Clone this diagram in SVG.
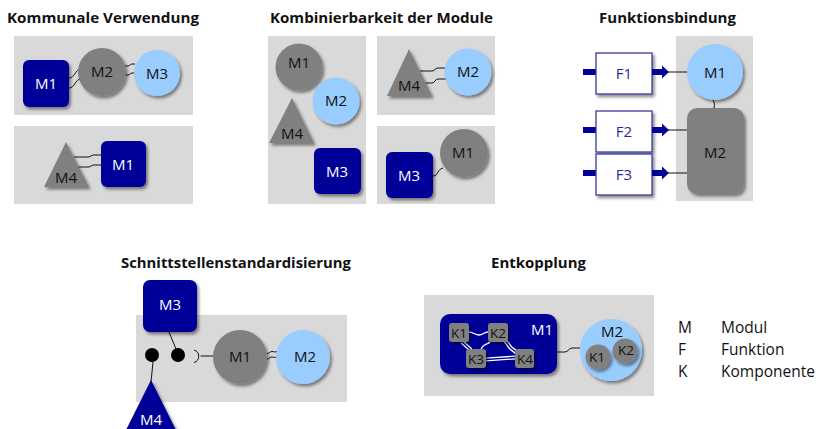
<svg xmlns="http://www.w3.org/2000/svg" width="822" height="429" viewBox="0 0 822 429">
<defs>
<filter id="sh" x="-30%" y="-30%" width="170%" height="170%">
<feDropShadow dx="2" dy="2.5" stdDeviation="1.8" flood-color="#000" flood-opacity="0.45"/>
</filter>
<style>
.bg{fill:#d9d9d9}
.db{fill:#000099;filter:url(#sh)}
.gr{fill:#808080;filter:url(#sh)}
.lb{fill:#99ccff;filter:url(#sh)}
.fb{fill:#fff;stroke:#3a3aa0;stroke-width:1.3;filter:url(#sh)}
.t{font-family:"Open Sans","Liberation Sans",sans-serif;font-weight:bold;font-size:15px;fill:#111}
.l{font-family:"Open Sans","Liberation Sans",sans-serif;font-size:15px;text-anchor:middle;dominant-baseline:central;fill:#111}
.w{fill:#fff}
.fl{fill:#2a2a9a}
.ks{font-size:13.5px}
.lg{font-family:"Open Sans","Liberation Sans",sans-serif;font-size:15.5px;fill:#111}
.c{fill:none;stroke:#111;stroke-width:1}
.cw{fill:none;stroke:#fff;stroke-width:1.3}
.cd{fill:none;stroke:#fff;stroke-width:4}
.cdi{fill:none;stroke:#000099;stroke-width:1.4}
.ar{fill:#000099}
</style>
</defs>

<!-- Titles -->
<text class="t" x="7" y="23" textLength="192" lengthAdjust="spacingAndGlyphs">Kommunale Verwendung</text>
<text class="t" x="270" y="23" textLength="223" lengthAdjust="spacingAndGlyphs">Kombinierbarkeit der Module</text>
<text class="t" x="599" y="23" textLength="137" lengthAdjust="spacingAndGlyphs">Funktionsbindung</text>
<text class="t" x="121" y="268" textLength="230" lengthAdjust="spacingAndGlyphs">Schnittstellenstandardisierung</text>
<text class="t" x="491" y="268" textLength="95" lengthAdjust="spacingAndGlyphs">Entkopplung</text>

<!-- Background panels -->
<g id="panels">
<rect class="bg" x="14" y="36" width="179" height="79"/>
<rect class="bg" x="14" y="126" width="179" height="78"/>
<rect class="bg" x="268" y="36" width="98" height="168"/>
<rect class="bg" x="377" y="36" width="118" height="79"/>
<rect class="bg" x="377" y="126" width="118" height="78"/>
<rect class="bg" x="676" y="36" width="77" height="165"/>
<rect class="bg" x="136" y="315" width="211" height="87"/>
<rect class="bg" x="424" y="295" width="230" height="101"/>
</g>

<!-- Connectors -->
<g id="connectors">
<path class="c" d="M69,78 C75,78 75,69 81,69"/>
<path class="c" d="M69,88 C75,88 75,79 81,79"/>
<path class="c" d="M124,66 h4 c2,0 2,-2 4,-2 h3"/>
<path class="c" d="M124,75 h4 c2,0 2,-2 4,-2 h3"/>
<path class="c" d="M74,157 h14 c3,0 3,-2 6,-2 h7"/>
<path class="c" d="M77,167 h11 c3,0 3,-2 6,-2 h7"/>
<path class="c" d="M420,71 h12 c3,0 3,-3 6,-3 h8"/>
<path class="c" d="M424,83 h8 c3,0 3,-4 6,-4 h8"/>
<path class="c" d="M433,176 c3,0 4,-2 5,-4 s2,-3 5,-4"/>
<path class="c" d="M662,72 H688"/>
<path class="c" d="M662,130 H688"/>
<path class="c" d="M662,173 H688"/>
<path class="c" d="M713,100 c1,2 2,4 1,8"/>
<path class="c" d="M169,332 L176,349"/>
<path class="c" d="M153,362 L151,382"/>
<path class="c" d="M194,350 a6.5,6.5 0 0 1 0,12.5"/>
<path class="c" d="M200.5,356 H214"/>
<path class="c" d="M267,353.5 c2,0 3,-2 5,-2 s2,1 5,0"/>
<path class="c" d="M267,359 c2,0 3,-2 5,-2 s2,1 5,0"/>
<path class="c" d="M557,352 h8 c3,0 4,-4 7,-4 h8"/>
<path class="c" d="M605,371 c3,-2 5,-2 7,-1 s4,1 8,-1"/>
<path class="c" d="M605,374.5 c3,-2 5,-2 7,-1 s4,1 8,-1"/>
</g>

<!-- Panel 1 -->
<g id="p1-m1"><rect class="db" x="23" y="60" width="46" height="47" rx="6"/><text class="l w" x="46" y="83">M1</text></g>
<g id="p1-m2"><circle class="gr" cx="102" cy="72" r="24"/><text class="l" x="102" y="71">M2</text></g>
<g id="p1-m3"><circle class="lb" cx="157" cy="73" r="23"/><text class="l" x="157" y="73">M3</text></g>
<g id="p1-m4"><path class="gr" d="M66,142 L89,187 L44,187 Z"/><text class="l" x="66" y="177">M4</text></g>
<g id="p1-m1b"><rect class="db" x="101" y="141" width="45" height="46" rx="6"/><text class="l w" x="123" y="164">M1</text></g>

<!-- Panel 2 -->
<g id="p2-m1"><circle class="gr" cx="299" cy="67" r="23.5"/><text class="l" x="299" y="62">M1</text></g>
<g id="p2-m2"><circle class="lb" cx="336" cy="101" r="23.5"/><text class="l" x="336" y="100">M2</text></g>
<g id="p2-m4"><path class="gr" d="M292,98 L314,143 L269,143 Z"/><text class="l" x="292" y="133">M4</text></g>
<g id="p2-m3"><rect class="db" x="314" y="148" width="47" height="46" rx="6"/><text class="l w" x="337" y="171">M3</text></g>
<g id="p2-m4b"><path class="gr" d="M409,49 L432,96 L387,96 Z"/><text class="l" x="409" y="85">M4</text></g>
<g id="p2-m2b"><circle class="lb" cx="468" cy="72" r="23.5"/><text class="l" x="468" y="71">M2</text></g>
<g id="p2-m1b"><circle class="gr" cx="464" cy="153" r="24"/><text class="l" x="463" y="152">M1</text></g>
<g id="p2-m3b"><rect class="db" x="386" y="152" width="47" height="46" rx="6"/><text class="l w" x="409" y="175">M3</text></g>

<!-- Panel 3 -->
<g id="p3-m1"><circle class="lb" cx="715" cy="72" r="28"/><text class="l" x="715" y="72">M1</text></g>
<g id="p3-m2"><rect class="gr" x="687" y="108" width="57" height="86" rx="10"/><text class="l" x="715" y="152">M2</text></g>
<g id="p3-f1">
<rect class="ar" x="583" y="69" width="13" height="6"/>
<rect class="fb" x="596" y="53" width="56" height="41"/>
<path class="ar" d="M652,69 H662 V65.5 L669,72 L662,78.5 V75 H652 Z"/>
<text class="l fl" x="624" y="73">F1</text>
</g>
<g id="p3-f2">
<rect class="ar" x="583" y="127" width="13" height="6"/>
<rect class="fb" x="596" y="111" width="56" height="41"/>
<path class="ar" d="M652,127 H662 V123.5 L669,130 L662,136.5 V133 H652 Z"/>
<text class="l fl" x="624" y="131">F2</text>
</g>
<g id="p3-f3">
<rect class="ar" x="583" y="170" width="13" height="6"/>
<rect class="fb" x="596" y="154" width="56" height="41"/>
<path class="ar" d="M652,170 H662 V166.5 L669,173 L662,179.5 V176 H652 Z"/>
<text class="l fl" x="624" y="174">F3</text>
</g>

<!-- Panel 4 -->
<g id="p4-m3"><rect class="db" x="143" y="280" width="54" height="52" rx="7"/><text class="l w" x="170" y="304">M3</text></g>
<g id="p4-dot1"><circle cx="152" cy="355" r="7" fill="#000"/></g>
<g id="p4-dot2"><circle cx="178" cy="355" r="7" fill="#000"/></g>
<g id="p4-m4"><path class="db" d="M151,380 L182,442 L120,442 Z"/><text class="l w" x="151" y="419">M4</text></g>
<g id="p4-m1"><circle class="gr" cx="240" cy="357" r="27"/><text class="l" x="240" y="356">M1</text></g>
<g id="p4-m2"><circle class="lb" cx="303" cy="357" r="27"/><text class="l" x="305" y="356">M2</text></g>

<!-- Panel 5 -->
<g id="p5-m1"><rect class="db" x="440" y="314" width="117" height="60" rx="10"/><text class="l w" x="542" y="329">M1</text></g>
<g id="p5-kconn">
<path class="cw" d="M469,332 c4,0 6,3 10,3 s5,-3 9,-3"/>
<path class="cw" d="M490,342 c-3,3 -8,2 -9,8"/>
<path class="cd" d="M462,342 L471,350"/>
<path class="cdi" d="M462,342 L471,350"/>
<path class="cd" d="M505,341 c4,3 4,6 7,8 s3,2 5,4"/>
<path class="cdi" d="M505,341 c4,3 4,6 7,8 s3,2 5,4"/>
<path class="cd" d="M486,359.5 L515,357.5"/>
<path class="cdi" d="M486,359.5 L515,357.5"/>
</g>
<g id="p5-k1"><rect class="gr" x="449" y="323" width="20" height="19" rx="3"/><text class="l ks" x="459" y="333">K1</text></g>
<g id="p5-k2"><rect class="gr" x="488" y="323" width="20" height="19" rx="3"/><text class="l ks" x="498" y="333">K2</text></g>
<g id="p5-k3"><rect class="gr" x="466" y="349" width="20" height="19" rx="3"/><text class="l ks" x="476" y="359">K3</text></g>
<g id="p5-k4"><rect class="gr" x="515" y="349" width="19" height="19" rx="3"/><text class="l ks" x="525" y="359">K4</text></g>
<g id="p5-m2">
<circle class="lb" cx="611" cy="350" r="31"/>
<text class="l" x="612" y="331">M2</text>
<circle class="gr" cx="625" cy="351" r="12.5"/>
<text class="l ks" x="626" y="350">K2</text>
<circle class="gr" cx="598" cy="357" r="12.5"/>
<text class="l ks" x="597" y="357">K1</text>
</g>

<!-- Legend -->
<g id="legend">
<text class="lg" x="678" y="333">M</text><text class="lg" x="721" y="333">Modul</text>
<text class="lg" x="678" y="355">F</text><text class="lg" x="721" y="355">Funktion</text>
<text class="lg" x="678" y="377">K</text><text class="lg" x="721" y="377">Komponente</text>
</g>
</svg>
